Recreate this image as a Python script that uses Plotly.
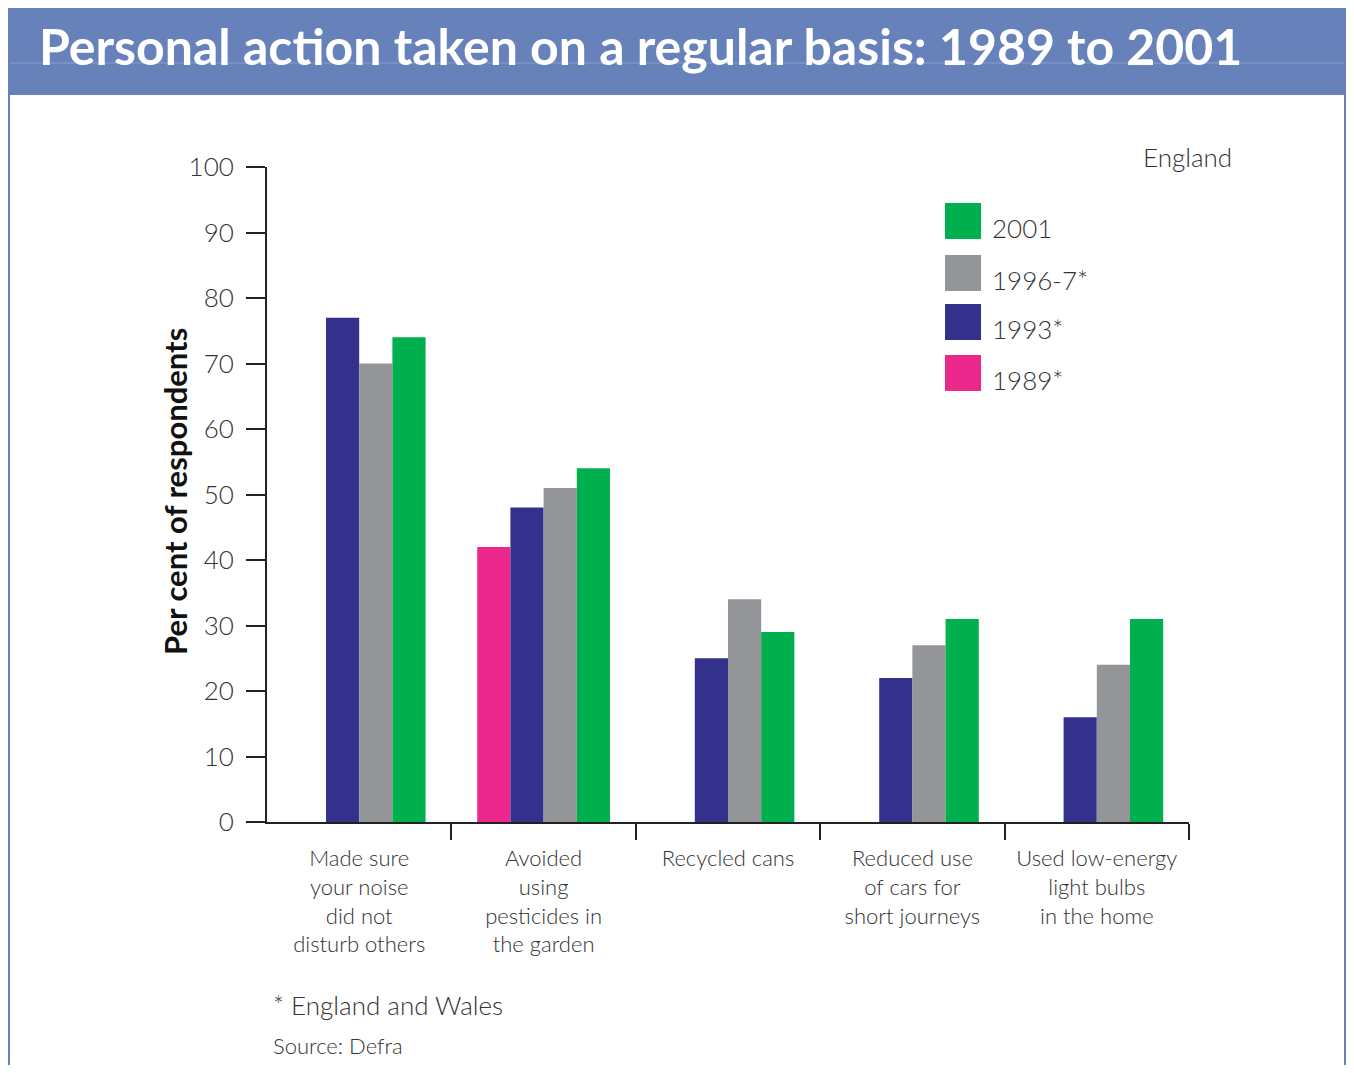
import plotly.graph_objects as go

categories = ["Made sure<br>your noise<br>did not<br>disturb others",
              "Avoided<br>using<br>pesticides in<br>the garden",
              "Recycled cans",
              "Reduced use<br>of cars for<br>short journeys",
              "Used low-energy<br>light bulbs<br>in the home"]
series_names = ["1989*", "1993*", "1996-7*", "2001"]
v1989 = [None, 42, None, None, None]
v1993 = [77, 48, 25, 22, 16]
v1996 = [70, 51, 34, 27, 24]
v2001 = [74, 54, 29, 31, 31]
y_ticks = [0, 10, 20, 30, 40, 50, 60, 70, 80, 90, 100]

colors = {"1989*": "#EC288C", "1993*": "#33318C", "1996-7*": "#939598", "2001": "#00B04F"}
values = {"1989*": v1989, "1993*": v1993, "1996-7*": v1996, "2001": v2001}

# page has an 8px body margin; work in page pixels and offset
OFF = 8
W, H = 1338, 1057
L, R, T, B = 267 - OFF, 1189 - OFF, 167 - OFF, 822 - OFF
FONT = "Lato"
TXT = "#333333"
BAR_BLUE = "#6781BA"


def px(x):
    return (x - OFF - L) / (R - L)


def py(y):
    return (B - (y - OFF)) / (B - T)


fig = go.Figure()
for name in series_names:
    fig.add_trace(go.Bar(x=categories, y=values[name], name=name,
                         marker=dict(color=colors[name], line=dict(width=0)),
                         showlegend=False))

shapes = []
annotations = []
# title bar
shapes.append(dict(type="rect", xref="paper", yref="paper", x0=px(8), x1=px(1350), y0=py(95), y1=py(8),
                   fillcolor=BAR_BLUE, line=dict(width=0), layer="below"))
shapes.append(dict(type="line", xref="paper", yref="paper", x0=px(8), x1=px(1350), y0=py(63), y1=py(63),
                   line=dict(color="#8A9ED0", width=1)))
# frame lines
for xx in (9, 1345):
    shapes.append(dict(type="line", xref="paper", yref="paper", x0=px(xx), x1=px(xx), y0=py(8), y1=py(1080),
                       line=dict(color=BAR_BLUE, width=2)))
# hide the boundary tick under the y axis origin
shapes.append(dict(type="line", xref="paper", yref="paper", x0=px(267), x1=px(267), y0=py(824), y1=py(842),
                   line=dict(color="white", width=4)))
annotations.append(dict(text="<b>Personal action taken on a regular basis: 1989 to 2001</b>",
                        xref="paper", yref="paper", x=px(37), y=py(46), xanchor="left", yanchor="middle",
                        showarrow=False, font=dict(family=FONT, size=50, color="white")))
# legend (manual, large swatches)
legend_order = ["2001", "1996-7*", "1993*", "1989*"]
legend_tops = [203, 255, 304, 355]
for name, top in zip(legend_order, legend_tops):
    shapes.append(dict(type="rect", xref="paper", yref="paper", x0=px(945), x1=px(981),
                       y0=py(top + 36), y1=py(top), fillcolor=colors[name], line=dict(width=0)))
    annotations.append(dict(text=name, xref="paper", yref="paper", x=px(990), y=py(top + 25),
                            xanchor="left", yanchor="middle", showarrow=False,
                            font=dict(family=FONT, size=26, color=TXT, weight=300)))
annotations.append(dict(text="England", xref="paper", yref="paper", x=px(1234), y=py(157),
                        xanchor="right", yanchor="middle", showarrow=False,
                        font=dict(family=FONT, size=26, color=TXT, weight=300)))
annotations.append(dict(text="* England and Wales", xref="paper", yref="paper", x=px(271), y=py(1005),
                        xanchor="left", yanchor="middle", showarrow=False,
                        font=dict(family=FONT, size=26, color=TXT, weight=300)))
annotations.append(dict(text="Source: Defra", xref="paper", yref="paper", x=px(271), y=py(1045),
                        xanchor="left", yanchor="middle", showarrow=False,
                        font=dict(family=FONT, size=22, color=TXT, weight=300)))
annotations.append(dict(text="<b>Per cent of respondents</b>", xref="paper", yref="paper", x=px(175), y=py(492),
                        xanchor="center", yanchor="middle", textangle=-90, showarrow=False,
                        font=dict(family=FONT, size=31, color="#111111")))

fig.update_layout(
    width=W, height=H,
    margin=dict(l=L, r=W - R, t=T, b=H - B, autoexpand=False),
    paper_bgcolor="white", plot_bgcolor="white",
    barmode="group", bargap=0.28, bargroupgap=0,
    shapes=shapes, annotations=annotations,
    font=dict(family=FONT, color=TXT),
    xaxis=dict(type="category", showline=True, linecolor="#222222", linewidth=2,
               ticks="outside", tickson="boundaries", ticklen=16, tickwidth=2, tickcolor="#222222",
               ticklabelstandoff=16,
               tickfont=dict(family=FONT, size=22, color=TXT, weight=300), showgrid=False, zeroline=False),
    yaxis=dict(range=[0, 100], tickvals=y_ticks, showline=True, linecolor="#222222", linewidth=2,
               ticks="outside", ticklen=19, tickwidth=2, tickcolor="#222222",
               ticklabelstandoff=7,
               tickfont=dict(family=FONT, size=26, color=TXT, weight=300), showgrid=False, zeroline=False),
)

fig.write_html("out.html")
